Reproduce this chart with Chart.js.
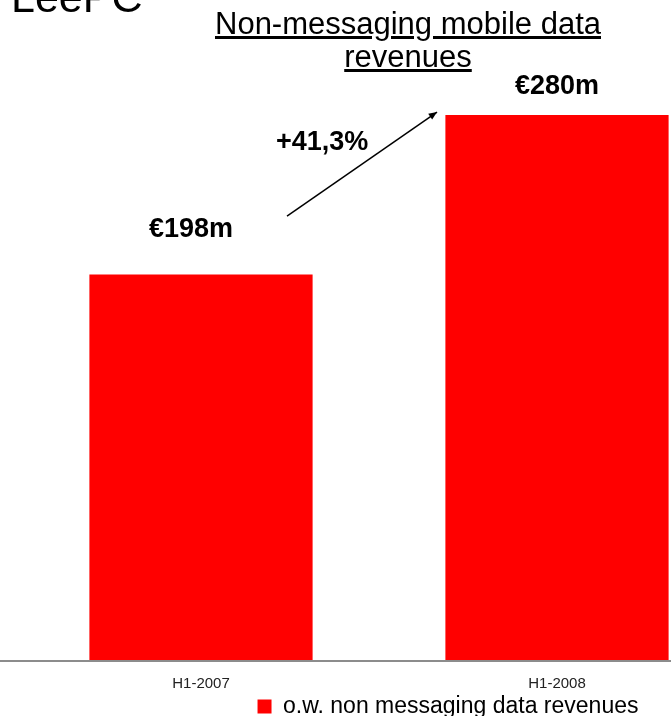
<!DOCTYPE html>
<html>
<head>
<meta charset="utf-8">
<title>Non-messaging mobile data revenues</title>
<script src="https://cdn.jsdelivr.net/npm/chart.js@4/dist/chart.umd.min.js"></script>
<style>
  html, body { margin: 0; padding: 0; background: #fff; overflow: hidden; }
  body { width: 671px; height: 716px; position: relative; font-family: "Liberation Sans", Arial, sans-serif; }
  #wrap { position: absolute; left: 0; top: 0; width: 873px; height: 728px; }
  #logo { position: absolute; left: 11px; top: -27px; font-size: 43px; color: #000; }
  #titulo { position: absolute; left: 158px; top: 7px; width: 500px; text-align: center;
            font-size: 31px; line-height: 33px; text-decoration: underline; color: #000; }
</style>
</head>
<body>
<div id="wrap"><canvas id="grafica" width="873" height="728"></canvas></div>
<div id="logo">LeePC</div>
<div id="titulo">Non-messaging mobile data<br>revenues</div>
<script>
const categorias = ['H1-2007', 'H1-2008'];
const ingresos = [198, 280];
const etiquetas = ['€198m', '€280m'];
const crecimiento = '+41,3%';
const serie = 'o.w. non messaging data revenues';

// etiquetas de valor, flecha de crecimiento y línea base
const extras = {
  id: 'extras',
  afterDatasetsDraw(chart) {
    const ctx = chart.ctx;
    const barras = chart.getDatasetMeta(0).data;
    const y = chart.scales.y;
    const area = chart.chartArea;

    ctx.save();
    ctx.strokeStyle = '#8c8c8c';
    ctx.lineWidth = 2;
    ctx.beginPath();
    ctx.moveTo(0, area.bottom + 1);
    ctx.lineTo(671, area.bottom + 1);
    ctx.stroke();

    ctx.fillStyle = '#000';
    ctx.font = 'bold 27px "Liberation Sans", Arial, sans-serif';
    ctx.textAlign = 'center';
    ctx.textBaseline = 'alphabetic';
    const desplaz = [[-10, 38], [0, 21]];
    barras.forEach((b, i) => {
      ctx.fillText(etiquetas[i], b.x + desplaz[i][0], b.y - desplaz[i][1]);
    });

    // flecha
    const x0 = barras[0].x + 86, y0 = y.getPixelForValue(228);
    const x1 = barras[1].x - 120, y1 = y.getPixelForValue(281.5);
    ctx.strokeStyle = '#000';
    ctx.lineWidth = 1.5;
    ctx.beginPath();
    ctx.moveTo(x0, y0);
    ctx.lineTo(x1, y1);
    ctx.stroke();
    const ang = Math.atan2(y1 - y0, x1 - x0);
    ctx.beginPath();
    ctx.moveTo(x1, y1);
    ctx.lineTo(x1 - 9 * Math.cos(ang - 0.4), y1 - 9 * Math.sin(ang - 0.4));
    ctx.lineTo(x1 - 9 * Math.cos(ang + 0.4), y1 - 9 * Math.sin(ang + 0.4));
    ctx.closePath();
    ctx.fill();

    ctx.textAlign = 'left';
    ctx.fillText(crecimiento, 276, y.getPixelForValue(262));
    ctx.restore();
  }
};

const ctx = document.getElementById('grafica').getContext('2d');
new Chart(ctx, {
  type: 'bar',
  data: {
    labels: categorias,
    datasets: [{
      label: serie,
      data: ingresos,
      backgroundColor: '#ff0000',
      borderWidth: 0,
      categoryPercentage: 1,
      barPercentage: 0.627
    }]
  },
  options: {
    responsive: false,
    animation: false,
    layout: { padding: { left: 23, top: 76, right: 0, bottom: 0 } },
    plugins: {
      legend: {
        position: 'bottom',
        labels: {
          boxWidth: 14,
          boxHeight: 14,
          padding: 0,
          color: '#000',
          font: { family: '"Liberation Sans", Arial, sans-serif', size: 23 }
        }
      },
      tooltip: { enabled: false }
    },
    scales: {
      x: {
        grid: { display: false, drawTicks: false },
        border: { display: false },
        ticks: {
          color: '#222',
          padding: 15,
          font: { family: '"Liberation Sans", Arial, sans-serif', size: 15 }
        },
        afterFit(scale) { scale.height = 35; }
      },
      y: {
        position: 'right',
        min: 0,
        max: 300,
        grid: { display: false },
        border: { display: false },
        ticks: { display: false },
        afterFit(scale) { scale.width = 138; }
      }
    }
  },
  plugins: [extras]
});
</script>
</body>
</html>
